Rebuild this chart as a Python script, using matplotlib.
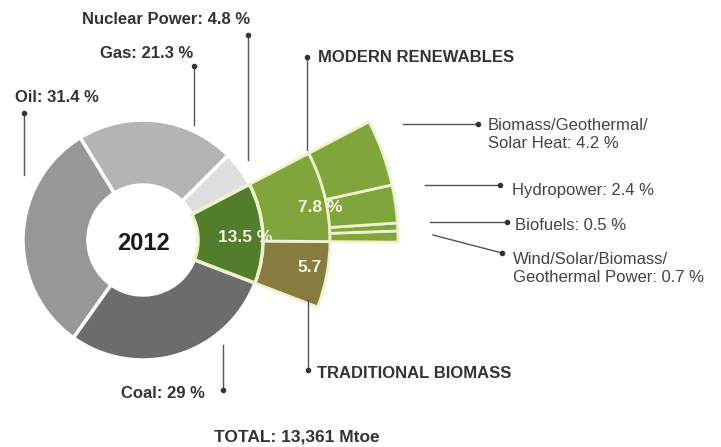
import matplotlib
matplotlib.use("Agg")
import matplotlib.pyplot as plt

# Datos: consumo final de energía 2012 (porcentajes)
main_labels = ["Renewables", "Nuclear Power", "Gas", "Oil", "Coal"]
main_values = [13.5, 4.8, 21.3, 31.4, 29.0]
main_colors = ["#527d2b", "#dedede", "#b4b4b4", "#979797", "#6c6c6c"]

split_labels = ["TRADITIONAL BIOMASS", "MODERN RENEWABLES"]
split_values = [5.7, 7.8]
split_colors = ["#877b40", "#80a53b"]

modern_labels = ["Wind/Solar/Biomass/\nGeothermal Power", "Biofuels", "Hydropower",
                 "Biomass/Geothermal/\nSolar Heat"]
modern_values = [0.7, 0.5, 2.4, 4.2]
modern_color = "#80a53b"

year = "2012"
total_text = "TOTAL: 13,361 Mtoe"

plt.rcParams['font.family'] = ['Liberation Sans', 'DejaVu Sans']

W, H = 721, 447
fig = plt.figure(figsize=(W / 100, H / 100), dpi=100)
ax = fig.add_axes([0, 0, 1, 1])

cx, cy = 143, 240
r_in, r1, r2, r3 = 55, 120, 187, 255
start = 21  # eje y invertido: giro horario en datos = antihorario en pantalla
cream = "#eef3cf"

# Anillo principal
w1, _ = ax.pie(main_values, colors=main_colors, radius=r1, center=(cx, cy),
               startangle=start, counterclock=False,
               wedgeprops=dict(width=r1 - r_in, linewidth=2.5, edgecolor="white"))
w1[0].set_edgecolor(cream)
w1[0].set_zorder(3)

# Renovables: tradicional vs moderna
w2, _ = ax.pie([v / 100 for v in split_values], colors=split_colors, radius=r2,
               center=(cx, cy), startangle=start, counterclock=False, normalize=False,
               wedgeprops=dict(width=r2 - r1, linewidth=2, edgecolor=cream))

# Renovables modernas desglosadas
start3 = start - split_values[0] * 3.6
w3, _ = ax.pie([v / 100 for v in modern_values], colors=[modern_color] * len(modern_values),
               radius=r3, center=(cx, cy), startangle=start3, counterclock=False,
               normalize=False,
               wedgeprops=dict(width=r3 - r2, linewidth=2, edgecolor=cream))

ax.set_xlim(0, W)
ax.set_ylim(H, 0)
ax.set_aspect("equal")
ax.axis("off")

# Textos interiores
ax.text(cx, cy + 3, year, ha="center", va="center", fontsize=17, fontweight="bold", color="#1a1a1a")
inner_c = "#f4f6ea"
ax.text(245, 238, f"{main_values[0]} %", ha="center", va="center", fontsize=12.5,
        fontweight="bold", color=inner_c)
ax.text(320, 208, f"{split_values[1]} %", ha="center", va="center", fontsize=12.5,
        fontweight="bold", color=inner_c)
ax.text(310, 268, f"{split_values[0]}", ha="center", va="center", fontsize=12.5,
        fontweight="bold", color=inner_c)

line_c = "#555555"
bold_c = "#333333"
fs_b = 12
fs_r = 12


def leader(xs, ys, dot):
    ax.plot(xs, ys, color=line_c, lw=1)
    ax.plot(*dot, "o", color="#333333", ms=3)


def pct(v):
    return f"{v:g} %"


# Etiquetas de la izquierda / arriba
leader([24, 24], [113, 175], (24, 113))
ax.text(15, 97, f"{main_labels[3]}: {pct(main_values[3])}", ha="left", va="center",
        fontsize=fs_b, fontweight="bold", color=bold_c)
leader([194, 194], [66, 125], (194, 66))
ax.text(193, 53, f"{main_labels[2]}: {pct(main_values[2])}", ha="right", va="center",
        fontsize=fs_b, fontweight="bold", color=bold_c)
leader([248, 248], [35, 160], (248, 35))
ax.text(250, 20, f"{main_labels[1]}: {pct(main_values[1])}", ha="right", va="center",
        fontsize=fs_b, fontweight="bold", color=bold_c)
leader([223, 223], [345, 390], (223, 390))
ax.text(205, 393, f"{main_labels[4]}: {pct(main_values[4])}", ha="right", va="center",
        fontsize=fs_b, fontweight="bold", color=bold_c)

leader([307, 307], [57, 150], (307, 57))
ax.text(318, 57, split_labels[1], ha="left", va="center", fontsize=fs_b,
        fontweight="bold", color=bold_c)
leader([308, 308], [300, 370], (308, 370))
ax.text(317, 374, split_labels[0], ha="left", va="center", fontsize=fs_b,
        fontweight="bold", color=bold_c)

ax.text(297, 437, total_text, ha="center", va="center", fontsize=12.5,
        fontweight="bold", color=bold_c)

# Etiquetas de la derecha
reg_c = "#444444"
leader([403, 478], [124, 124], (478, 124))
ax.text(488, 134.5, f"{modern_labels[3]}: {pct(modern_values[3])}", ha="left", va="center",
        fontsize=fs_r, color=reg_c, linespacing=1.3)
leader([425, 500], [185, 185], (500, 185))
ax.text(512, 191, f"{modern_labels[2]}: {pct(modern_values[2])}", ha="left", va="center",
        fontsize=fs_r, color=reg_c)
leader([430, 507], [222, 222], (507, 222))
ax.text(515, 225, f"{modern_labels[1]}: {pct(modern_values[1])}", ha="left", va="center",
        fontsize=fs_r, color=reg_c)
leader([433, 502], [235, 253], (502, 253))
ax.text(513, 268.5, f"{modern_labels[0]}: {pct(modern_values[0])}", ha="left", va="center",
        fontsize=fs_r, color=reg_c, linespacing=1.3)

fig.savefig("out.png", dpi=100, facecolor="white")
